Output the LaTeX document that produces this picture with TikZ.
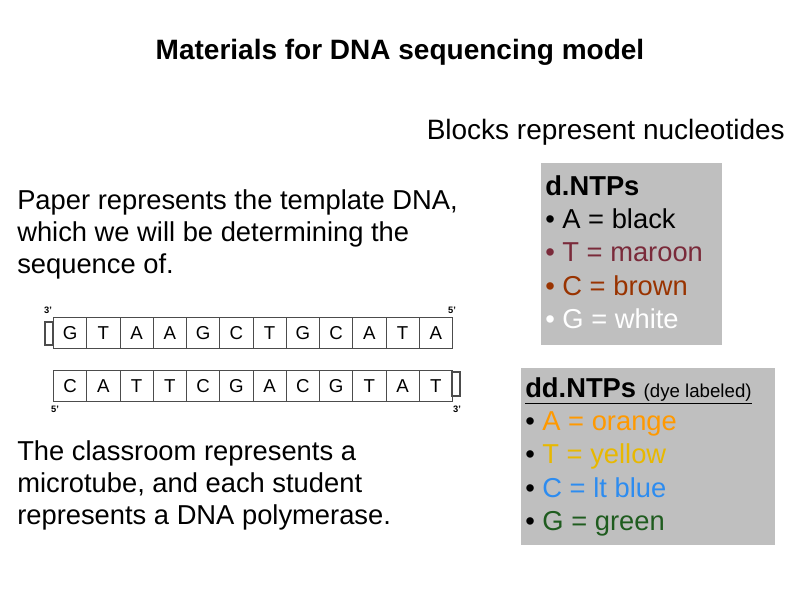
\documentclass[tikz,border=0pt]{standalone}
\usepackage{fontspec}
\setmainfont{Liberation Sans}
\begin{document}
\begin{tikzpicture}[x=0.75pt,y=-0.75pt,
  txt/.style={anchor=north west,align=left,font=\fontsize{20.5}{24}\selectfont,inner sep=0pt},
  base/.style={draw=black!70,line width=0.8pt,minimum width=33.25*0.75pt,minimum height=31*0.75pt,inner sep=0pt,font=\fontsize{14}{14}\selectfont,anchor=north west},
  tab/.style={draw=black!70,line width=0.8pt,fill=white},
  prime/.style={font=\fontsize{7}{7}\selectfont\bfseries,inner sep=0pt},
  panel/.style={fill=black!25,draw=none}]
\useasboundingbox (0,0) rectangle (800,600);
\node[font=\bfseries\fontsize{21}{22}\selectfont] (title) at (400,52) {Materials for DNA sequencing model};
\node[anchor=east,font=\fontsize{21}{22}\selectfont,inner sep=0pt] (blocks) at (785,132) {Blocks represent nucleotides};
\node[txt] (paper) at (17,189) {Paper represents the template DNA,\\which we will be determining the\\sequence of.};
\node[txt] (room) at (17,440) {The classroom represents a\\microtube, and each student\\represents a DNA polymerase.};
% template strands
\draw[tab] (45,322) rectangle (53,345);
\draw[tab] (452,372) rectangle (460,396);
\foreach \b [count=\i from 0] in {G,T,A,A,G,C,T,G,C,A,T,A}
  \node[base] (t\i) at (53+\i*33.25,317) {\b};
\foreach \b [count=\i from 0] in {C,A,T,T,C,G,A,C,G,T,A,T}
  \node[base] (c\i) at (53+\i*33.25,370) {\b};
\node[prime] (p1) at (48,310) {3'};
\node[prime] (p2) at (452,310) {5'};
\node[prime] (p3) at (55,409) {5'};
\node[prime] (p4) at (457,409) {3'};
% dNTPs
\fill[panel] (541,163) rectangle (722,345);
\node[txt,font=\fontsize{20.5}{25}\selectfont] (dntp) at (545,175) {\textbf{d.NTPs}\\
  \textbullet\ A = black\\
  \textcolor[HTML]{7A2A3A}{\textbullet\ T = maroon}\\
  \textcolor[HTML]{993300}{\textbullet\ C = brown}\\
  \textcolor{white}{\textbullet\ G = white}};
% ddNTPs
\fill[panel] (521,368) rectangle (775,545);
\node[txt,font=\fontsize{20.5}{25}\selectfont] (ddntp) at (525,377) {\underline{\textbf{dd.NTPs} {\fontsize{14}{14}\selectfont (dye labeled)}}\\
  \textcolor[HTML]{FF9900}{\textcolor{black}{\textbullet}\ A = orange}\\
  \textcolor[HTML]{E8B800}{\textcolor{black}{\textbullet}\ T = yellow}\\
  \textcolor[HTML]{2D8CF0}{\textcolor{black}{\textbullet}\ C = lt blue}\\
  \textcolor[HTML]{1F5C1F}{\textcolor{black}{\textbullet}\ G = green}};
\end{tikzpicture}
\end{document}
